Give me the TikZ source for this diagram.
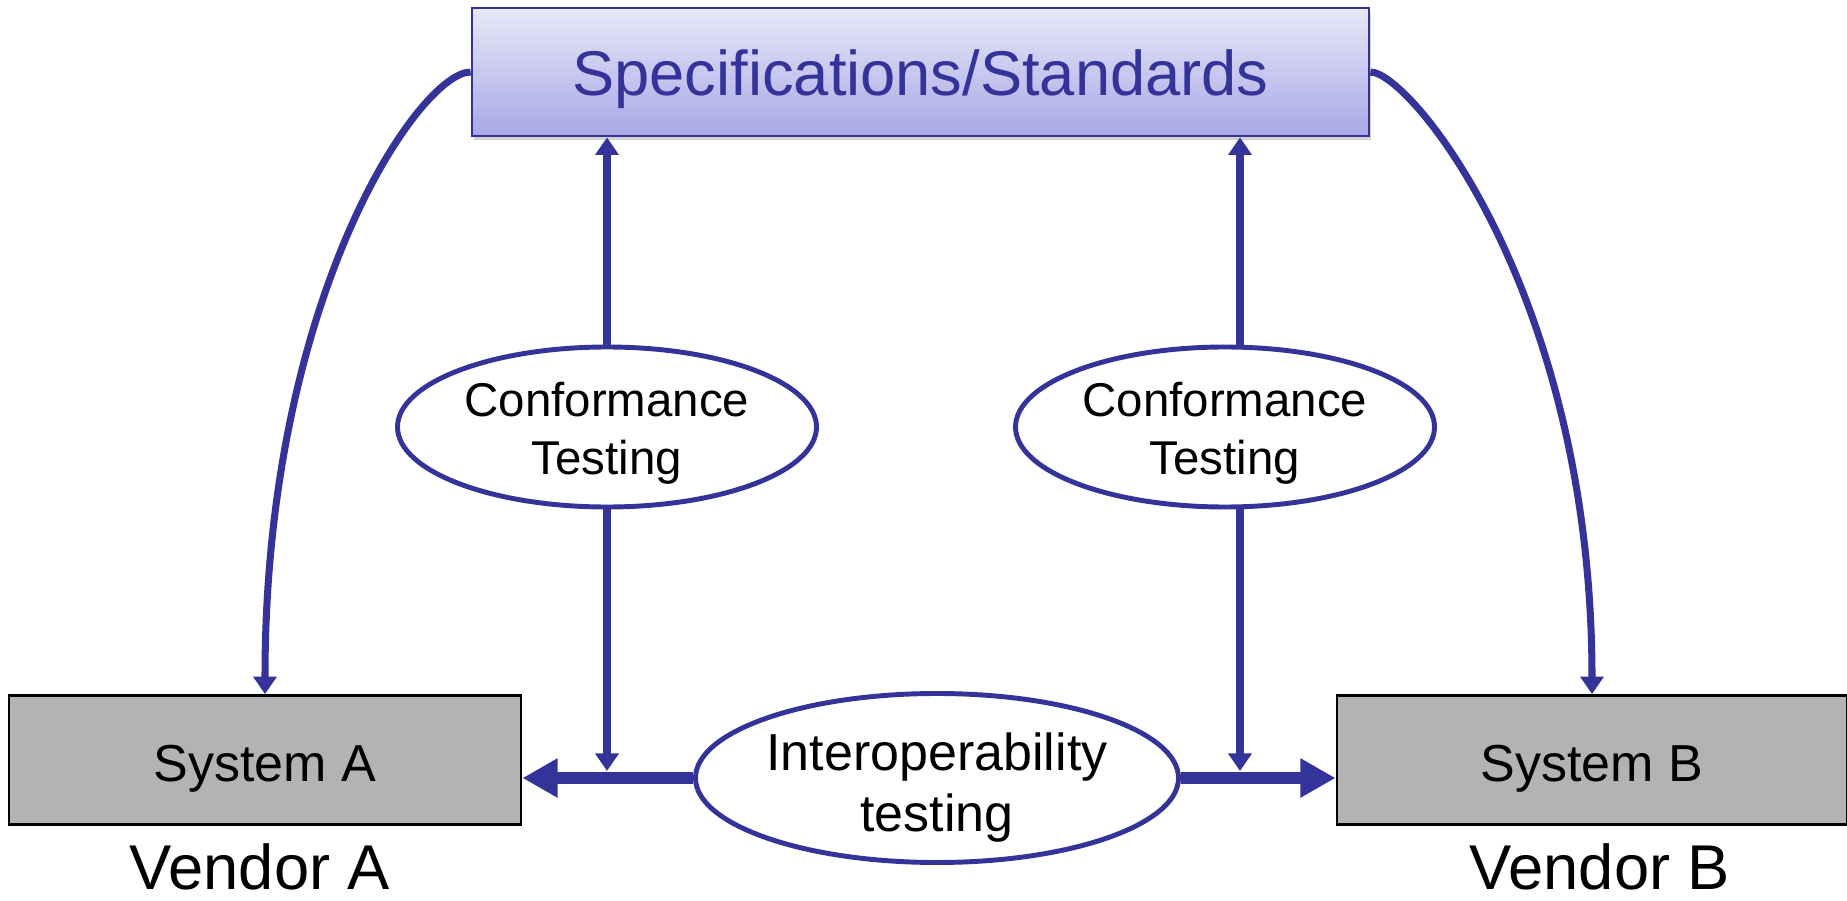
\documentclass[tikz,border=0pt]{standalone}
\usepackage{fontspec}
\setmainfont{Liberation Sans}
\usetikzlibrary{arrows.meta,shapes.geometric,shadows}
\definecolor{specblue}{RGB}{51,51,153}
\definecolor{spectop}{RGB}{232,232,248}
\definecolor{specbot}{RGB}{168,168,230}
\definecolor{sysgray}{RGB}{179,179,179}

\begin{document}
\begin{tikzpicture}[
    specbox/.style={draw=specblue,line width=0.8pt,top color=spectop,bottom color=specbot,
        minimum width=8.97cm,minimum height=1.28cm,inner sep=0pt,text=specblue,
        font=\fontsize{18pt}{21pt}\selectfont,text height=13.3pt,text depth=0pt,
        drop shadow={shadow xshift=0.6pt,shadow yshift=-1pt,opacity=0.35}},
    sysbox/.style={draw=black,line width=0.8pt,fill=sysgray,minimum height=1.29cm,
        inner sep=0pt,font=\fontsize{14.8pt}{17pt}\selectfont,text height=12.4pt,text depth=0pt},
    vendor/.style={anchor=base,font=\fontsize{18pt}{21pt}\selectfont},
    testell/.style={ellipse,draw=specblue,line width=1.4pt,fill=white,inner sep=0pt},
    conftext/.style={align=center,font=\fontsize{13.5pt}{16.5pt}\selectfont,yshift=-1.8pt},
    interoptext/.style={align=center,font=\fontsize{14.8pt}{17.4pt}\selectfont,yshift=-2.6pt},
    link/.style={specblue,line width=2pt,-{Triangle[length=5pt,width=6.5pt]}},
    biglink/.style={specblue,line width=3.4pt,-{Triangle[length=10pt,width=10.5pt]}},
]
    \useasboundingbox (0,0) rectangle (18.47,9);
    %% boxes
    \node[specbox] (spec) at (9.205,8.28) {Specifications/Standards};
    \node[sysbox,minimum width=5.12cm] (sysA) at (2.65,1.40) {System A};
    \node[sysbox,minimum width=5.10cm] (sysB) at (15.92,1.40) {System B};
    \node[vendor] (vendA) at (2.60,0.11) {Vendor A};
    \node[vendor] (vendB) at (16.00,0.11) {Vendor B};
    %% test ellipses
    \node[testell,minimum width=4.19cm,minimum height=1.60cm,
        label={[conftext,name=confAtext]center:{Conformance\\Testing}}] (confA) at (6.07,4.73) {};
    \node[testell,minimum width=4.19cm,minimum height=1.60cm,
        label={[conftext,name=confBtext]center:{Conformance\\Testing}}] (confB) at (12.25,4.73) {};
    \node[testell,minimum width=4.83cm,minimum height=1.69cm,
        label={[interoptext,name=interoptext]center:{Interoperability\\testing}}] (interop) at (9.37,1.22) {};
    %% conformance arrows
    \draw[link] (confA.north) -- (confA.north |- spec.south);
    \draw[link] (confA.south) -- ([yshift=2pt]confA.south |- interop.west);
    \draw[link] ([xshift=0.15cm]confB.north) -- ([xshift=0.15cm]confB.north |- spec.south);
    \draw[link] ([xshift=0.15cm]confB.south) -- ([xshift=0.15cm,yshift=2pt]confB.south |- interop.east);
    %% interoperability arrows
    \draw[biglink] (interop.west) -- (sysA.east |- interop.west);
    \draw[biglink] (interop.east) -- (sysB.west |- interop.east);
    %% specs to systems
    \draw[link] (spec.west) .. controls +(-0.5,0) and +(0,4) .. (sysA.north);
    \draw[link] (spec.east) .. controls +(0.4,0) and +(0,4) .. (sysB.north);
\end{tikzpicture}
\end{document}
